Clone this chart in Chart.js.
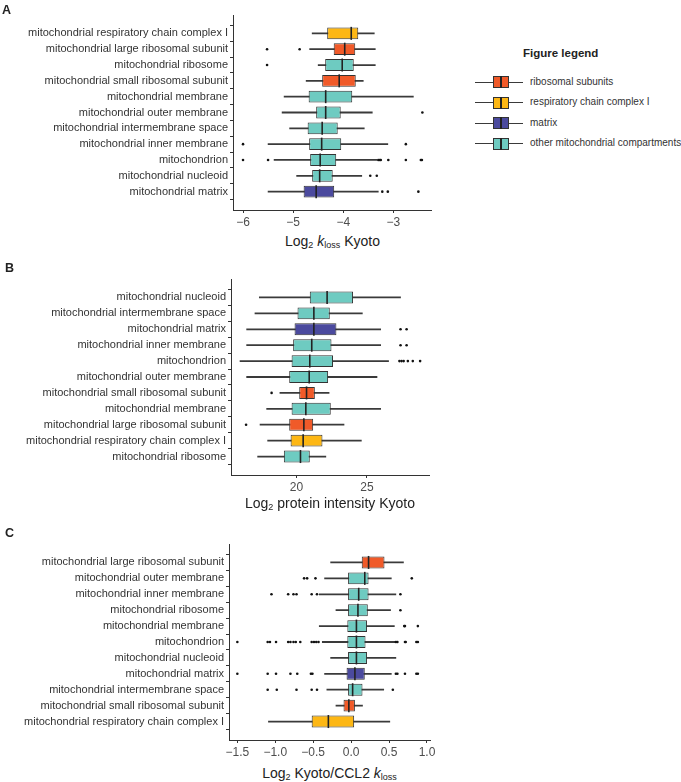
<!DOCTYPE html>
<html>
<head>
<meta charset="utf-8">
<script src="https://cdn.jsdelivr.net/npm/chart.js@4.4.1/dist/chart.umd.min.js"></script>
<style>
    body { margin: 0; background: #fff; width: 681px; height: 782px; position: relative; overflow: hidden;
           font-family: "Liberation Sans", Arial, sans-serif; color: #222; }
    canvas { position: absolute; left: 0; }
    .tag { position: absolute; font-weight: bold; font-size: 12.5px; line-height: 14px; z-index: 2; }
    .xt { position: absolute; text-align: center; font-size: 14px; line-height: 16px; color: #222; z-index: 2; white-space: nowrap; }
    .xt sub { font-size: 9px; vertical-align: -2px; line-height: 0; }
    .lg { position: absolute; z-index: 2; }
    .lg-title { position: absolute; left: 523px; top: 46px; font-weight: bold; font-size: 11.5px; line-height: 14px; white-space: nowrap; }
    .lg-text { position: absolute; font-size: 10px; line-height: 12px; color: #333; white-space: nowrap; }
</style>
</head>
<body>
<div class="tag" style="left:2px;top:3px">A</div>
<div class="tag" style="left:5px;top:261px">B</div>
<div class="tag" style="left:5px;top:526px">C</div>

<canvas id="chartA" width="440" height="232" style="top:0px"></canvas>
<canvas id="chartB" width="440" height="233" style="top:264px"></canvas>
<canvas id="chartC" width="440" height="233" style="top:529px"></canvas>

<div class="xt" style="left:233px;width:199px;top:233px">Log<sub>2</sub> <i>k</i><sub>loss</sub> Kyoto</div>
<div class="xt" style="left:231px;width:198px;top:495px">Log<sub>2</sub> protein intensity Kyoto</div>
<div class="xt" style="left:229px;width:201px;top:765px">Log<sub>2</sub> Kyoto/CCL2 <i>k</i><sub>loss</sub></div>

<div id="legend" class="lg"></div>

<script>
// Panel A: Log2 kloss Kyoto
const catsA = ['mitochondrial respiratory chain complex I', 'mitochondrial large ribosomal subunit', 'mitochondrial ribosome',
    'mitochondrial small ribosomal subunit', 'mitochondrial membrane', 'mitochondrial outer membrane',
    'mitochondrial intermembrane space', 'mitochondrial inner membrane', 'mitochondrion', 'mitochondrial nucleoid', 'mitochondrial matrix'];
const loA  = [-4.62, -4.67, -4.50, -4.74, -5.18, -5.22, -5.07, -5.50, -5.38, -4.93, -5.50];
const q1A  = [-4.32, -4.19, -4.36, -4.42, -4.69, -4.54, -4.71, -4.68, -4.66, -4.62, -4.79];
const medA = [-3.84, -3.97, -4.02, -4.08, -4.35, -4.35, -4.42, -4.43, -4.46, -4.47, -4.54];
const q3A  = [-3.70, -3.76, -3.79, -3.75, -3.82, -4.05, -4.11, -4.04, -4.14, -4.21, -4.18];
const hiA  = [-3.38, -3.36, -3.36, -3.60, -2.60, -3.42, -3.58, -3.11, -3.33, -3.63, -3.30];
const outA = [[], [-5.52, -4.87], [-5.52], [], [], [-2.42], [], [-6.0, -2.75],
    [-6.0, -5.50, -3.30, -3.27, -3.25, -3.10, -2.75, -2.45, -2.43], [-3.46, -3.33], [-3.22, -3.11, -2.50]];
const ticksA = [-6, -5, -4, -3];

// Panel B: Log2 protein intensity Kyoto
const catsB = ['mitochondrial nucleoid', 'mitochondrial intermembrane space', 'mitochondrial matrix', 'mitochondrial inner membrane',
    'mitochondrion', 'mitochondrial outer membrane', 'mitochondrial small ribosomal subunit', 'mitochondrial membrane',
    'mitochondrial large ribosomal subunit', 'mitochondrial respiratory chain complex I', 'mitochondrial ribosome'];
const loB  = [17.36, 17.05, 16.46, 16.46, 15.99, 16.46, 18.82, 17.88, 17.41, 17.95, 17.24];
const q1B  = [20.94, 20.07, 19.86, 19.76, 19.65, 19.48, 20.19, 19.65, 19.48, 19.58, 19.10];
const medB = [22.17, 21.23, 21.23, 21.08, 20.94, 20.90, 20.71, 20.66, 20.52, 20.47, 20.28];
const q3B  = [24.01, 22.36, 22.83, 22.48, 22.59, 22.24, 21.30, 22.43, 21.18, 21.84, 20.94];
const hiB  = [27.38, 24.67, 25.97, 25.97, 26.53, 25.71, 22.31, 25.97, 23.37, 24.60, 22.08];
const outB = [[], [], [27.38, 27.81], [27.38, 27.81], [27.30, 27.45, 27.60, 27.90, 28.25, 28.77], [], [18.23], [], [16.42], [], []];
const ticksB = [20, 25];

// Panel C: Log2 Kyoto/CCL2 kloss
const catsC = ['mitochondrial large ribosomal subunit', 'mitochondrial outer membrane', 'mitochondrial inner membrane',
    'mitochondrial ribosome', 'mitochondrial membrane', 'mitochondrion', 'mitochondrial nucleoid', 'mitochondrial matrix',
    'mitochondrial intermembrane space', 'mitochondrial small ribosomal subunit', 'mitochondrial respiratory chain complex I'];
const loC  = [-0.27, -0.35, -0.42, -0.20, -0.42, -0.38, -0.27, -0.35, -0.32, -0.20, -1.09];
const q1C  = [0.14, -0.04, -0.04, -0.04, -0.05, -0.05, -0.04, -0.06, -0.04, -0.10, -0.52];
const medC = [0.23, 0.18, 0.10, 0.09, 0.07, 0.07, 0.07, 0.05, 0.02, -0.03, -0.30];
const q3C  = [0.44, 0.23, 0.23, 0.22, 0.21, 0.19, 0.21, 0.18, 0.15, 0.05, 0.04];
const hiC  = [0.69, 0.53, 0.59, 0.52, 0.57, 0.58, 0.59, 0.53, 0.43, 0.15, 0.51];
const outC = [[], [-0.62, -0.58, -0.47, 0.80], [-1.05, -0.83, -0.76, -0.72, -0.52, -0.45, 0.65], [0.65], [0.70, 0.71, 0.88],
    [-1.50, -1.10, -1.07, -0.99, -0.83, -0.80, -0.76, -0.73, -0.67, -0.52, -0.49, -0.46, -0.43, 0.59, 0.61, 0.71, 0.72, 0.86, 0.88],
    [], [-1.50, -1.10, -0.99, -0.80, -0.71, -0.53, -0.51, 0.59, 0.61, 0.71, 0.86, 0.88], [-1.10, -0.98, -0.72, -0.52, -0.45, 0.55], [], []];
const ticksC = [-1.5, -1.0, -0.5, 0.0, 0.5, 1.0];

// legend
const legendLabels = ['ribosomal subunits', 'respiratory chain complex I', 'matrix', 'other mitochondrial compartments'];
const legendColors = ['#F05A29', '#FDB714', '#4B4A9E', '#6ECBC1'];

const FONT = "'Liberation Sans', Arial, sans-serif";

function colorFor(name) {
    if (name.indexOf('ribosomal subunit') >= 0) return legendColors[0];
    if (name.indexOf('respiratory chain') >= 0) return legendColors[1];
    if (name.indexOf('matrix') >= 0) return legendColors[2];
    return legendColors[3];
}

const minus = (s) => s.replace('-', '\u2212');

function boxPanel(id, cats, lo, q1, med, q3, hi, outs, xTicks, xMin, xMax, axisLeft, padRight, fmt) {
    const rows = cats.map((c, i) => i);
    const outPts = [];
    outs.forEach((vals, i) => vals.forEach((v) => outPts.push({ x: v, y: i })));

    return new Chart(document.getElementById(id), {
        type: 'bar',
        data: {
            datasets: [
                {   // whiskers
                    type: 'bar',
                    data: rows.map((i) => ({ x: [lo[i], hi[i]], y: i })),
                    backgroundColor: '#3a3a3a',
                    grouped: false,
                    categoryPercentage: 1,
                    barPercentage: 1,
                    maxBarThickness: 1.1,
                    order: 4
                },
                {   // boxes
                    type: 'bar',
                    data: rows.map((i) => ({ x: [q1[i], q3[i]], y: i })),
                    backgroundColor: cats.map(colorFor),
                    borderColor: '#333',
                    borderWidth: 1,
                    borderSkipped: false,
                    grouped: false,
                    categoryPercentage: 0.75,
                    barPercentage: 1,
                    maxBarThickness: 13,
                    order: 3
                },
                {   // medians
                    type: 'scatter',
                    data: rows.map((i) => ({ x: med[i], y: i })),
                    pointStyle: 'line',
                    rotation: 90,
                    radius: 6.5,
                    borderColor: '#222',
                    borderWidth: 1.6,
                    order: 2
                },
                {   // outliers
                    type: 'scatter',
                    data: outPts,
                    pointStyle: 'circle',
                    radius: 1.3,
                    backgroundColor: '#111',
                    borderWidth: 0,
                    order: 1
                }
            ]
        },
        options: {
            responsive: false,
            animation: false,
            indexAxis: 'y',
            events: [],
            layout: { padding: { top: 15, right: padRight, left: 0, bottom: 0 } },
            plugins: { legend: { display: false }, tooltip: { enabled: false } },
            scales: {
                x: {
                    type: 'linear',
                    min: xMin,
                    max: xMax,
                    afterBuildTicks: (scale) => { scale.ticks = xTicks.map((v) => ({ value: v })); },
                    afterFit: (scale) => { scale.height = 22; },
                    grid: { drawOnChartArea: false, tickLength: 3, color: '#333', tickColor: '#333' },
                    border: { color: '#333', width: 1 },
                    ticks: { font: { size: 12, family: FONT }, color: '#4d4d4d', padding: 2, maxRotation: 0, autoSkip: false, callback: fmt }
                },
                y: {
                    type: 'linear',
                    reverse: true,
                    min: -0.6,
                    max: cats.length - 0.4,
                    afterBuildTicks: (scale) => { scale.ticks = rows.map((i) => ({ value: i })); },
                    afterFit: (scale) => { scale.width = axisLeft; },
                    grid: { drawOnChartArea: false, tickLength: 3, color: '#333', tickColor: '#333' },
                    border: { color: '#333', width: 1 },
                    ticks: { font: { size: 11, family: FONT }, color: '#333', padding: 2, autoSkip: false,
                             callback: (v) => cats[v] }
                }
            }
        }
    });
}

boxPanel('chartA', catsA, loA, q1A, medA, q3A, hiA, outA, ticksA, -6.2, -2.23, 233, 8, (v) => minus(String(v)));
boxPanel('chartB', catsB, loB, q1B, medB, q3B, hiB, outB, ticksB, 15.35, 29.4, 231, 11, (v) => String(v));
boxPanel('chartC', catsC, loC, q1C, medC, q3C, hiC, outC, ticksC, -1.61, 1.04, 229, 10, (v) => minus(v.toFixed(1)));

// legend, drawn as plain elements
const legend = document.getElementById('legend');
const title = document.createElement('div');
title.className = 'lg-title';
title.textContent = 'Figure legend';
legend.appendChild(title);

legendLabels.forEach((label, i) => {
    const y = 82 + i * 20.6;
    const parts = [
        `<div style="position:absolute;left:475px;top:${y - 0.5}px;width:48px;height:1.1px;background:#3a3a3a"></div>`,
        `<div style="position:absolute;left:493px;top:${y - 6}px;width:16px;height:12px;box-sizing:border-box;border:1px solid #333;background:${legendColors[i]}"></div>`,
        `<div style="position:absolute;left:500.3px;top:${y - 6}px;width:1.5px;height:12px;background:#222"></div>`,
        `<div class="lg-text" style="left:530px;top:${y - 6.5}px">${label}</div>`
    ];
    legend.insertAdjacentHTML('beforeend', parts.join(''));
});
</script>
</body>
</html>
